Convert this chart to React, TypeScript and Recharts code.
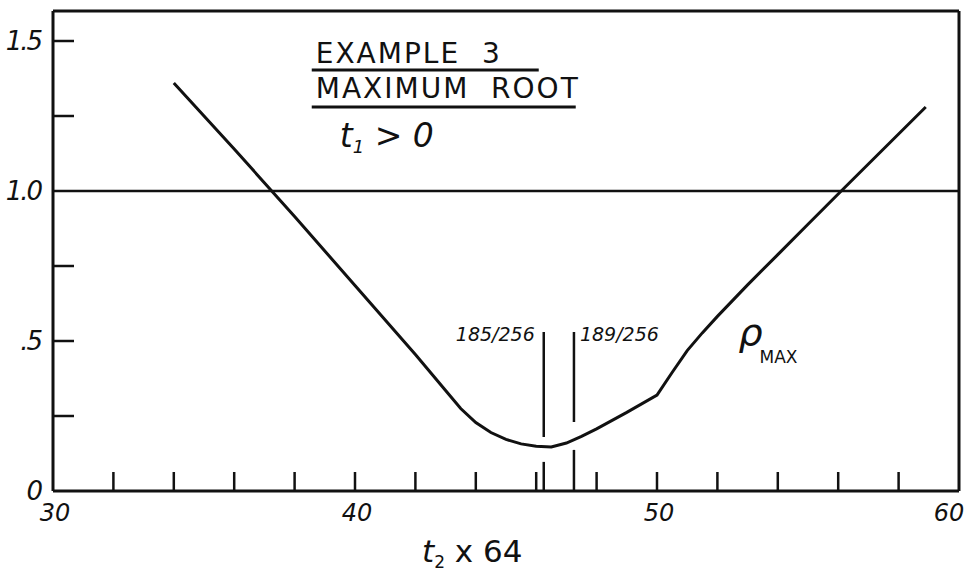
import { LineChart, Line, XAxis, YAxis, ReferenceLine, ReferenceDot, Label } from 'recharts'

// rho_max against t2 * 64 (hand-read curve)
const t2Scaled = [34, 36, 38, 40, 42, 43, 43.5, 44, 44.5, 45, 45.5, 46, 46.5, 47, 47.5, 48, 49, 50, 50.5, 51, 51.5, 52, 53, 54, 55, 56, 57, 58, 58.9]
const rhoMax = [1.36, 1.14, 0.915, 0.685, 0.455, 0.335, 0.275, 0.228, 0.195, 0.172, 0.157, 0.149, 0.147, 0.16, 0.182, 0.207, 0.262, 0.32, 0.395, 0.468, 0.527, 0.582, 0.687, 0.788, 0.889, 0.99, 1.09, 1.19, 1.28]

const xTicks = [30, 32, 34, 36, 38, 40, 42, 44, 46, 48, 50, 52, 54, 56, 58, 60]
const xTickLabels: Record<number, string> = { 30: '30', 40: '40', 50: '50', 60: '60' }
const yTicks = [0, 0.25, 0.5, 0.75, 1.0, 1.25, 1.5]
const yTickLabels: Record<number, string> = { 0: '0', 0.5: '.5', 1: '1.0', 1.5: '1.5' }

// bounds marked on the curve, as fractions of 256
const boundNumerators = [185, 189]

const data = t2Scaled.map((t, i) => ({ t, rho: rhoMax[i] }))

const INK = '#111'
const HAND = '"DejaVu Sans", sans-serif'

const BottomTick = ({ x, y, payload }: any) => {
  const v = payload.value
  const inner = v !== 30 && v !== 60
  // the last label sits just inside the frame's corner
  const dx = v === 60 ? -10 : 2
  return (
    <g>
      {inner && <line x1={x} y1={y} x2={x} y2={y - 19} stroke={INK} strokeWidth={2.5} />}
      {xTickLabels[v] && (
        <text x={x + dx} y={y + 30} textAnchor="middle" fontFamily={HAND} fontStyle="italic" fontSize={24} fill={INK}>
          {xTickLabels[v]}
        </text>
      )}
    </g>
  )
}

const TopTick = ({ x, y, payload }: any) => {
  const v = payload.value
  if (v === 30 || v === 60) return <g />
  return <line x1={x} y1={y} x2={x} y2={y + 19} stroke={INK} strokeWidth={2.5} />
}

const LeftTick = ({ x, y, payload }: any) => {
  const v = payload.value
  return (
    <g>
      {v !== 0 && v !== 1 && <line x1={x} y1={y} x2={x + 21} y2={y} stroke={INK} strokeWidth={2.5} />}
      {yTickLabels[v] && (
        <text x={x - 12} y={y + 9} textAnchor="end" fontFamily={HAND} fontStyle="italic" fontSize={26} letterSpacing={-2} fill={INK}>
          {yTickLabels[v]}
        </text>
      )}
    </g>
  )
}

const RightTick = ({ x, y, payload }: any) => {
  const v = payload.value
  if (v === 0 || v === 1) return <g />
  return <line x1={x} y1={y} x2={x - 26} y2={y} stroke={INK} strokeWidth={2.5} />
}

const TitleBlock = ({ cx, cy }: any) => (
  <g fontFamily={HAND} fill={INK}>
    <text x={cx} y={cy} fontSize={28} letterSpacing={2}>EXAMPLE&#160;&#160;3</text>
    <line x1={cx - 4} y1={cy + 7} x2={cx + 223} y2={cy + 7} stroke={INK} strokeWidth={3} />
    <text x={cx} y={cy + 35} fontSize={28} letterSpacing={2}>MAXIMUM&#160;&#160;ROOT</text>
    <line x1={cx - 4} y1={cy + 44} x2={cx + 260} y2={cy + 44} stroke={INK} strokeWidth={3} />
    <text x={cx + 24} y={cy + 84} fontSize={33} fontStyle="italic">
      t<tspan fontSize={18} dy={6}>1</tspan>
      <tspan dy={-6}>{'  > 0'}</tspan>
    </text>
  </g>
)

const RhoLabel = ({ cx, cy }: any) => (
  <g fontFamily={HAND} fill={INK}>
    <text x={cx} y={cy} fontSize={38} fontStyle="italic">ρ</text>
    <text x={cx + 21} y={cy + 18} fontSize={17}>MAX</text>
  </g>
)

const BoundLabel = (text: string, side: 'left' | 'right') => ({ cx, cy }: any) => (
  <text
    x={side === 'left' ? cx - 9 : cx + 6}
    y={cy + 9}
    textAnchor={side === 'left' ? 'end' : 'start'}
    fontFamily={HAND}
    fontStyle="italic"
    fontSize={19}
    fill={INK}
  >
    {text}
  </text>
)

const AxisTitle = ({ viewBox }: any) => {
  const x = viewBox.x + viewBox.width / 2 - 84
  const y = viewBox.y + 71
  return (
    <text x={x} y={y} fontFamily={HAND} fontSize={31} fill={INK}>
      <tspan fontStyle="italic">t</tspan>
      <tspan fontSize={17} dy={6}>2</tspan>
      <tspan dy={-6}>{' x 64'}</tspan>
    </text>
  )
}

export default function App() {
  const bounds = boundNumerators.map(n => (n / 256) * 64)
  return (
    <div style={{ position: 'absolute', left: 0, top: 0, width: 969, height: 574, background: '#fff' }}>
      <LineChart width={969} height={574} data={data} margin={{ top: 0, right: 0, bottom: 0, left: 0 }}>
        <XAxis
          dataKey="t"
          type="number"
          domain={[30, 60]}
          ticks={xTicks}
          interval={0}
          height={83}
          tickLine={false}
          tickSize={0}
          tickMargin={0}
          axisLine={{ stroke: INK, strokeWidth: 3 }}
          tick={<BottomTick />}
        >
          <Label content={<AxisTitle />} />
        </XAxis>
        <XAxis
          xAxisId="top"
          orientation="top"
          type="number"
          domain={[30, 60]}
          ticks={xTicks}
          interval={0}
          height={11}
          tickLine={false}
          tickSize={0}
          tickMargin={0}
          axisLine={{ stroke: INK, strokeWidth: 3 }}
          tick={<TopTick />}
        />
        <YAxis
          type="number"
          domain={[0, 1.6]}
          ticks={yTicks}
          interval={0}
          width={53}
          tickLine={false}
          tickSize={0}
          tickMargin={0}
          axisLine={{ stroke: INK, strokeWidth: 3 }}
          tick={<LeftTick />}
        />
        <YAxis
          yAxisId="right"
          orientation="right"
          type="number"
          domain={[0, 1.6]}
          ticks={yTicks}
          interval={0}
          width={10}
          tickLine={false}
          tickSize={0}
          tickMargin={0}
          axisLine={{ stroke: INK, strokeWidth: 3 }}
          tick={<RightTick />}
        />
        <ReferenceLine y={1} stroke={INK} strokeWidth={2.5} />
        {/* bound markers, broken where they cross the curve */}
        <ReferenceLine segment={[{ x: bounds[0], y: 0 }, { x: bounds[0], y: 0.097 }]} stroke={INK} strokeWidth={2.5} />
        <ReferenceLine segment={[{ x: bounds[0], y: 0.18 }, { x: bounds[0], y: 0.53 }]} stroke={INK} strokeWidth={2.5} />
        <ReferenceLine segment={[{ x: bounds[1], y: 0 }, { x: bounds[1], y: 0.137 }]} stroke={INK} strokeWidth={2.5} />
        <ReferenceLine segment={[{ x: bounds[1], y: 0.23 }, { x: bounds[1], y: 0.53 }]} stroke={INK} strokeWidth={2.5} />
        <ReferenceDot x={bounds[0]} y={0.53} r={0} ifOverflow="visible" shape={BoundLabel('185/256', 'left')} />
        <ReferenceDot x={bounds[1]} y={0.53} r={0} ifOverflow="visible" shape={BoundLabel('189/256', 'right')} />
        <ReferenceDot x={38.7} y={1.427} r={0} ifOverflow="visible" shape={<TitleBlock />} />
        <ReferenceDot x={52.7} y={0.487} r={0} ifOverflow="visible" shape={<RhoLabel />} />
        <Line
          type="linear"
          dataKey="rho"
          stroke={INK}
          strokeWidth={3}
          dot={false}
          activeDot={false}
          isAnimationActive={false}
        />
      </LineChart>
    </div>
  )
}
